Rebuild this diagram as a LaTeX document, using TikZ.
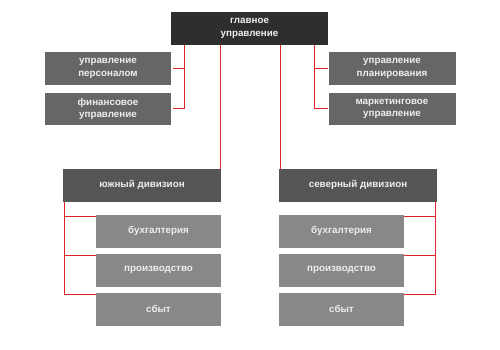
\documentclass[tikz,border=0pt]{standalone}
\usepackage{fontspec}
\setsansfont{Liberation Sans}
\usepackage{tikz}

\definecolor{headgray}{HTML}{2E2E2E}
\definecolor{deptgray}{HTML}{666666}
\definecolor{divgray}{HTML}{555555}
\definecolor{unitgray}{HTML}{888888}
\definecolor{linkred}{HTML}{E3202A}
\definecolor{textgray}{HTML}{EEEEEE}

\begin{document}
\begin{tikzpicture}[
    x=1pt, y=-1pt,
    box/.style={rectangle, inner sep=0pt, minimum height=32.5pt, align=center,
                text=textgray, font=\sffamily\bfseries\fontsize{9.8}{12.4}\selectfont},
    link/.style={draw=linkred, line width=1pt}
]
\useasboundingbox (0,0) rectangle (500,350);

% head office
\node[box, fill=headgray, minimum width=157pt] (head) at (249.5, 28.3)
    {главное\\управление};

\node[box, fill=deptgray, minimum width=126pt] (staff) at (108, 68.3)
    {управление\\персоналом};
\node[box, fill=deptgray, minimum width=126pt] (finance) at (108, 109)
    {финансовое\\управление};
\node[box, fill=deptgray, minimum width=127pt] (plan) at (392, 68.3)
    {управление\\планирования};
\node[box, fill=deptgray, minimum width=127pt] (market) at (392, 109)
    {маркетинговое\\управление};

% divisions
\node[box, fill=divgray, minimum width=158pt] (south) at (142, 185.3)
    {южный дивизион};
\node[box, fill=divgray, minimum width=158pt] (north) at (358, 185.3)
    {северный дивизион};

\node[box, fill=unitgray, minimum width=125pt] (sacc) at (158.5, 231.3) {бухгалтерия};
\node[box, fill=unitgray, minimum width=125pt] (sprod) at (158.5, 270.3) {производство};
\node[box, fill=unitgray, minimum width=125pt] (ssale) at (158.5, 309.3) {сбыт};
\node[box, fill=unitgray, minimum width=125pt] (nacc) at (341.5, 231.3) {бухгалтерия};
\node[box, fill=unitgray, minimum width=125pt] (nprod) at (341.5, 270.3) {производство};
\node[box, fill=unitgray, minimum width=125pt] (nsale) at (341.5, 309.3) {сбыт};

% links
\draw[link] ([xshift=13.5pt]staff.east |- head.south) |- ([xshift=2pt]finance.east);
\draw[link] ([xshift=13.5pt]staff.east) -- ([xshift=2pt]staff.east);
\draw[link] ([xshift=-13.5pt]plan.west |- head.south) |- (market.west);
\draw[link] ([xshift=-13.5pt]plan.west) -- (plan.west);

\draw[link] ([xshift=-1pt]south.north east |- head.south) -- ([xshift=-1pt]south.north east);
\draw[link] ([xshift=2pt]north.north west |- head.south) -- ([xshift=2pt]north.north west);

\draw[link] ([xshift=1.5pt]south.south west) |- ([yshift=-1.7pt]ssale.north west);
\draw[link] ([xshift=1.5pt,yshift=-1.7pt]south.south west |- sacc.north) -- ([yshift=-1.7pt]sacc.north west);
\draw[link] ([xshift=1.5pt,yshift=-1.7pt]south.south west |- sprod.north) -- ([yshift=-1.7pt]sprod.north west);

\draw[link] ([xshift=-1.5pt]north.south east) |- ([yshift=-1.7pt]nsale.north east);
\draw[link] ([xshift=-1.5pt,yshift=-1.7pt]north.south east |- nacc.north) -- ([yshift=-1.7pt]nacc.north east);
\draw[link] ([xshift=-1.5pt,yshift=-1.7pt]north.south east |- nprod.north) -- ([yshift=-1.7pt]nprod.north east);
\end{tikzpicture}
\end{document}
